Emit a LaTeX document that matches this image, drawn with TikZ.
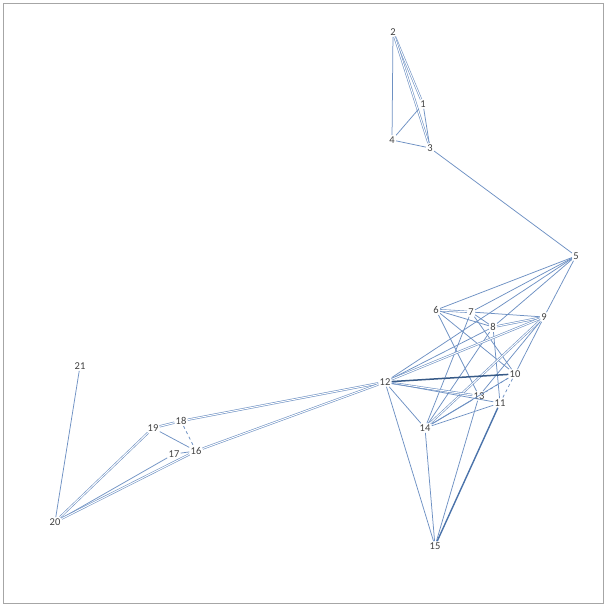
\documentclass[tikz,border=0pt]{standalone}
\usepackage{fontspec}
\setmainfont{Carlito}
\definecolor{edgec}{RGB}{110,145,195}
\definecolor{heavyc}{RGB}{55,90,135}
\definecolor{heavyb}{RGB}{75,115,170}
\begin{document}
\begin{tikzpicture}[x=1pt,y=-1pt,
  lbl/.style={font=\fontsize{10.5}{12}\selectfont, text=black!75, inner sep=1.2pt, fill=none},
  edge/.style={draw=edgec, line width=0.75pt},
  pair/.style={edge, double=white, double distance=1.0pt, line width=0.6pt},
  heavy/.style={edge, line width=1.5pt, draw=heavyc},
  heavyblue/.style={edge, line width=1.4pt, draw=heavyb}]
\useasboundingbox (0,0) rectangle (607,607);
\draw[gray!70, line width=1pt] (3.5,3.5) rectangle (603.5,603.5);
\node[lbl] (n1) at (423,104) {1};
\node[lbl] (n2) at (393,32) {2};
\node[lbl] (n3) at (430,148) {3};
\node[lbl] (n4) at (392,140) {4};
\node[lbl] (n5) at (576,256) {5};
\node[lbl] (n6) at (436,310) {6};
\node[lbl] (n7) at (471,312) {7};
\node[lbl] (n8) at (493,327) {8};
\node[lbl] (n9) at (544,317) {9};
\node[lbl] (n10) at (515,374) {10};
\node[lbl] (n11) at (500,403) {11};
\node[lbl] (n12) at (385,382) {12};
\node[lbl] (n13) at (479,396) {13};
\node[lbl] (n14) at (425,428) {14};
\node[lbl] (n15) at (435,546) {15};
\node[lbl] (n16) at (196,451) {16};
\node[lbl] (n17) at (174,454) {17};
\node[lbl] (n18) at (181,421) {18};
\node[lbl] (n19) at (153,428) {19};
\node[lbl] (n20) at (55,522) {20};
\node[lbl] (n21) at (80,366) {21};
% top cluster
\draw[pair] (n2) -- (n1);
\draw[pair] (n2) -- (n3);
\draw[edge] (n2) -- (n4);
\draw[edge] (n4) -- (n1);
\draw[edge] (n4) -- (n3);
\draw[edge] (n1) -- (n3);
\draw[edge] (n3) -- (n5);
% 5
\draw[edge] (n5) -- (n6);
\draw[edge] (n5) -- (n7);
\draw[edge] (n5) -- (n8);
\draw[edge] (n5) -- (n9);
\draw[edge] (n5) -- (n12);
% right cluster
\draw[pair] (n6) -- (n7);
\draw[edge] (n6) -- (n8);
\draw[edge] (n6) -- (n10);
\draw[edge] (n6) -- (n13);
\draw[edge] (n7) -- (n8);
\draw[edge] (n7) -- (n9);
\draw[edge] (n7) -- (n14);
\draw[edge] (n7) -- (n10);
\draw[pair] (n8) -- (n9);
\draw[edge] (n8) -- (n14);
\draw[edge] (n8) -- (n12);
\draw[edge] (n8) -- (n11);
\draw[edge] (n9) -- (n10);
\draw[pair] (n9) -- (n12);
\draw[pair] (n9) -- (n14);
\draw[edge] (n9) -- (n13);
\draw[heavy] (n12) -- (n10);
\draw[pair] (n12) -- (n13);
\draw[edge] (n12) -- (n11);
\draw[edge] (n12) -- (n14);
\draw[edge] (n12) -- (n15);
\draw[edge] (n14) -- (n13);
\draw[edge] (n14) -- (n11);
\draw[edge] (n14) -- (n10);
\draw[edge] (n14) -- (n15);
\draw[edge] (n13) -- (n15);
\draw[heavyblue] (n11) -- (n15);
\draw[edge, dashed] (n10) -- (n13);
\draw[edge, dashed] (n10) -- (n11);
% left cluster
\draw[pair] (n12) -- (n18);
\draw[pair] (n12) -- (n16);
\draw[pair] (n18) -- (n19);
\draw[edge] (n19) -- (n16);
\draw[edge, dashed] (n18) -- (n16);
\draw[edge] (n17) -- (n16);
\draw[pair] (n20) -- (n19);
\draw[edge] (n20) -- (n17);
\draw[pair] (n20) -- (n16);
\draw[edge] (n20) -- (n21);
\end{tikzpicture}
\end{document}
